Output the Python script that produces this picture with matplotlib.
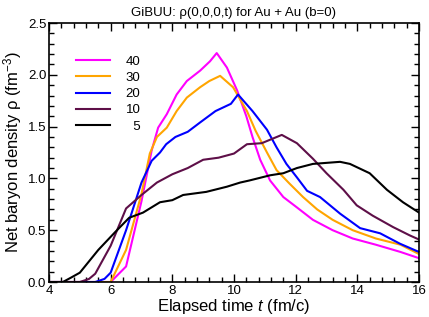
import numpy as np
import matplotlib
matplotlib.use("Agg")
import matplotlib.pyplot as plt
from matplotlib.ticker import MultipleLocator

plt.rcParams['font.family'] = ['Liberation Sans', 'DejaVu Sans']
plt.rcParams['mathtext.fontset'] = 'custom'
plt.rcParams['mathtext.rm'] = 'Liberation Sans'
plt.rcParams['mathtext.it'] = 'Liberation Sans:italic'

# time (fm/c) and density (fm^-3), one pair per curve
t40 = [4.0, 6.0, 6.5, 7.0, 7.33, 7.54, 7.82, 8.14, 8.47, 8.9, 9.22, 9.44, 9.77,
       10.1, 10.4, 10.6, 10.85, 11.17, 11.6, 12.04, 12.56, 13.2, 13.85, 14.6, 15.4, 16.0]
r40 = [0.0, 0.0, 0.15, 0.78, 1.27, 1.49, 1.62, 1.81, 1.94, 2.04, 2.13, 2.21, 2.07,
       1.85, 1.60, 1.40, 1.18, 0.98, 0.82, 0.72, 0.60, 0.50, 0.42, 0.36, 0.29, 0.23]

t30 = [4.0, 6.0, 6.5, 7.0, 7.27, 7.5, 7.82, 8.14, 8.47, 8.9, 9.2, 9.55, 9.97,
       10.42, 10.7, 11.07, 11.38, 11.8, 12.24, 12.7, 13.2, 13.85, 14.6, 15.4, 16.0]
r30 = [0.0, 0.0, 0.31, 0.85, 1.24, 1.40, 1.49, 1.65, 1.78, 1.88, 1.94, 1.99, 1.88,
       1.65, 1.46, 1.25, 1.08, 0.95, 0.82, 0.70, 0.60, 0.50, 0.42, 0.36, 0.27]

t20 = [4.0, 5.5, 5.8, 6.0, 6.5, 7.0, 7.33, 7.6, 7.8, 8.1, 8.5, 8.9, 9.4, 9.9,
       10.13, 10.6, 11.07, 11.38, 11.7, 12.04, 12.37, 12.79, 13.44, 14.09, 14.74,
       15.38, 16.0]
r20 = [0.0, 0.0, 0.03, 0.09, 0.50, 0.96, 1.17, 1.25, 1.33, 1.40, 1.45, 1.54, 1.65,
       1.72, 1.81, 1.65, 1.47, 1.30, 1.14, 1.01, 0.88, 0.82, 0.66, 0.52, 0.47,
       0.37, 0.29]

t10 = [4.0, 5.0, 5.3, 5.5, 6.0, 6.5, 7.0, 7.5, 8.0, 8.5, 9.0, 9.5, 10.0, 10.42,
       10.9, 11.55, 12.04, 12.56, 13.0, 13.55, 13.98, 14.5, 15.16, 15.7, 16.0]
r10 = [0.0, 0.0, 0.03, 0.08, 0.35, 0.71, 0.84, 0.96, 1.04, 1.10, 1.18, 1.20, 1.24,
       1.33, 1.34, 1.42, 1.34, 1.19, 1.05, 0.89, 0.74, 0.64, 0.53, 0.45, 0.41]

t5 = [4.0, 4.45, 4.7, 5.0, 5.6, 6.14, 6.6, 7.05, 7.6, 8.0, 8.35, 9.1, 9.77, 10.2,
      10.5, 11.17, 11.6, 12.04, 12.56, 13.0, 13.44, 13.76, 14.4, 14.96, 15.48, 16.0]
r5 = [0.0, 0.0, 0.04, 0.09, 0.31, 0.48, 0.62, 0.67, 0.77, 0.79, 0.84, 0.87, 0.92,
      0.96, 0.98, 1.03, 1.05, 1.10, 1.14, 1.15, 1.16, 1.14, 1.05, 0.89, 0.77, 0.67]

labels = ["40", "30", "20", "10", "  5"]
colors = ["#ff00ff", "#ffa500", "#0000ff", "#5e0f48", "black"]

fig = plt.figure(figsize=(4.29, 3.17), dpi=100)
ax = fig.add_axes([0.1142, 0.1104, 0.8625, 0.817])

for t, r, lab, c in zip([t40, t30, t20, t10, t5], [r40, r30, r20, r10, r5], labels, colors):
    ax.plot(t, r, color=c, lw=1.5, label=lab)

ax.set_xlim(4, 16)
ax.set_ylim(0, 2.5)
ax.xaxis.set_major_locator(MultipleLocator(2))
ax.xaxis.set_minor_locator(MultipleLocator(0.4))
ax.yaxis.set_major_locator(MultipleLocator(0.5))
ax.yaxis.set_minor_locator(MultipleLocator(0.1))
ax.yaxis.set_major_formatter(matplotlib.ticker.FormatStrFormatter('%.1f'))
ax.tick_params(which='both', direction='in', top=True, right=True, labelsize=9.5, width=1)
ax.tick_params(which='major', length=6, pad=2)
ax.tick_params(which='minor', length=3.5)
for s in ax.spines.values():
    s.set_linewidth(1.2)

ax.set_xlabel("Elapsed time $t$ (fm/c)", fontsize=12, labelpad=0)
ax.set_ylabel("Net baryon density ρ (fm$^{-3}$)", fontsize=12, labelpad=3)
ax.set_title("GiBUU: ρ(0,0,0,t) for Au + Au (b=0)", fontsize=9.5, pad=5)

ax.legend(loc='upper left', bbox_to_anchor=(0.04, 0.92), frameon=False, fontsize=9.5,
          handlelength=2.6, handletextpad=1.2, labelspacing=0.3)

fig.savefig("out.png", dpi=100)
